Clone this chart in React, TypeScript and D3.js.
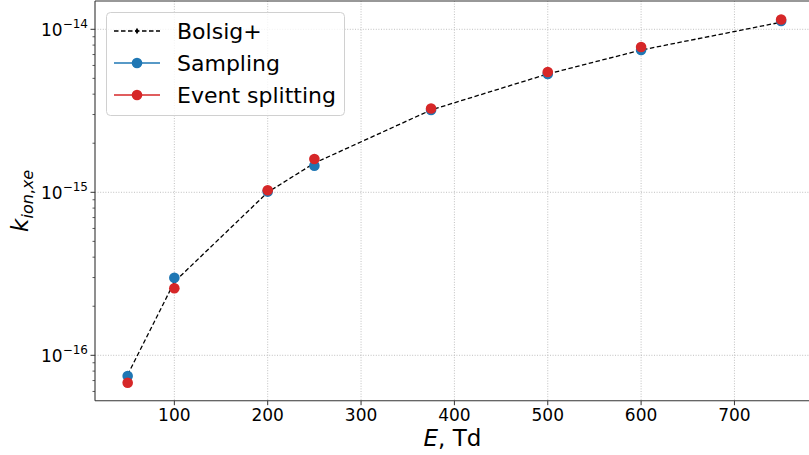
import React from "react";
import * as d3 from "d3";

const energies = [50, 100, 200, 250, 375, 500, 600, 750];
const bolsig = [7.6e-17, 2.82e-16, 1.0e-15, 1.51e-15, 3.2e-15, 5.32e-15, 7.46e-15, 1.105e-14];
const sampling = [7.46e-17, 2.99e-16, 1.01e-15, 1.456e-15, 3.2e-15, 5.32e-15, 7.46e-15, 1.124e-14];
const eventSplitting = [6.79e-17, 2.58e-16, 1.03e-15, 1.6e-15, 3.27e-15, 5.47e-15, 7.78e-15, 1.148e-14];
const xTicks = [100, 200, 300, 400, 500, 600, 700];
const yMajorExps = [-16, -15, -14];
const legendLabels = ["Bolsig+", "Sampling", "Event splitting"];

const W = 809;
const H = 455;
const LEFT = 95;
const RIGHT = 813.8;
const TOP = 1;
const BOTTOM = 400.7;
const FONT = "DejaVu Sans, sans-serif";
const BLUE = "#1f77b4";
const RED = "#d62728";

export default function App() {
  const x = d3.scaleLinear().domain([15, 785]).range([LEFT, RIGHT]);
  const y = d3
    .scaleLog()
    .domain([Math.pow(10, -16.2785), Math.pow(10, -13.8264)])
    .range([BOTTOM, TOP]);

  const minor: number[] = [];
  [-17, -16, -15, -14].forEach((e) => {
    for (let m = 2; m <= 9; m++) {
      const v = m * Math.pow(10, e);
      const [d0, d1] = y.domain();
      if (v >= d0 && v <= d1) minor.push(v);
    }
  });

  const line = d3
    .line<number>()
    .x((_, i) => x(energies[i]))
    .y((d) => y(d));

  const diamond = (cx: number, cy: number, s = 3.2) =>
    `M${cx},${cy - s} L${cx + s * 0.6},${cy} L${cx},${cy + s} L${cx - s * 0.6},${cy} Z`;

  const legendRows = [31, 63, 95];

  return (
    <svg
      width={W}
      height={H}
      style={{ position: "absolute", left: 0, top: 0, background: "#fff" }}
      fontFamily={FONT}
    >
      <defs>
        <clipPath id="plot">
          <rect x={LEFT} y={TOP} width={RIGHT - LEFT} height={BOTTOM - TOP} />
        </clipPath>
      </defs>
      {/* grid */}
      <g stroke="#b0b0b0" strokeWidth={0.8} strokeDasharray="1,1.6">
        {xTicks.map((t) => (
          <line key={"gx" + t} x1={x(t)} x2={x(t)} y1={TOP} y2={BOTTOM} />
        ))}
        {yMajorExps.map((e) => (
          <line key={"gy" + e} x1={LEFT} x2={RIGHT} y1={y(Math.pow(10, e))} y2={y(Math.pow(10, e))} />
        ))}
      </g>
      {/* data */}
      <g clipPath="url(#plot)">
        <path d={line(bolsig) || ""} fill="none" stroke="#000" strokeWidth={1.3} strokeDasharray="4.5,2.5" />
        {bolsig.map((v, i) => (
          <path key={"bd" + i} d={diamond(x(energies[i]), y(v))} fill="#000" />
        ))}
        {sampling.map((v, i) => (
          <circle key={"s" + i} cx={x(energies[i])} cy={y(v)} r={5.3} fill={BLUE} />
        ))}
        {eventSplitting.map((v, i) => (
          <circle key={"e" + i} cx={x(energies[i])} cy={y(v)} r={5.3} fill={RED} />
        ))}
      </g>
      {/* spines */}
      <g stroke="#333" strokeWidth={1.1} fill="none">
        <line x1={LEFT} x2={LEFT} y1={TOP} y2={BOTTOM} />
        <line x1={LEFT} x2={RIGHT} y1={BOTTOM} y2={BOTTOM} />
        <line x1={LEFT} x2={RIGHT} y1={TOP} y2={TOP} />
        <line x1={RIGHT} x2={RIGHT} y1={TOP} y2={BOTTOM} />
      </g>
      {/* x ticks */}
      <g>
        {xTicks.map((t) => (
          <g key={"xt" + t}>
            <line x1={x(t)} x2={x(t)} y1={BOTTOM} y2={BOTTOM + 4.5} stroke="#333" strokeWidth={1} />
            <text x={x(t)} y={BOTTOM + 20.5} textAnchor="middle" fontSize={17} fill="#000">
              {t}
            </text>
          </g>
        ))}
      </g>
      {/* y ticks */}
      <g>
        {minor.map((v, i) => (
          <line key={"ym" + i} x1={LEFT - 2.5} x2={LEFT} y1={y(v)} y2={y(v)} stroke="#333" strokeWidth={0.8} />
        ))}
        {yMajorExps.map((e) => {
          const yy = y(Math.pow(10, e));
          return (
            <g key={"yt" + e}>
              <line x1={LEFT - 4.5} x2={LEFT} y1={yy} y2={yy} stroke="#333" strokeWidth={1} />
              <text x={88} y={yy + 6.5} textAnchor="end" fontSize={17} fill="#000">
                <tspan>10</tspan>
                <tspan dy={-8} fontSize={12}>{"\u2212" + Math.abs(e)}</tspan>
              </text>
            </g>
          );
        })}
      </g>
      {/* axis labels */}
      <text x={(LEFT + RIGHT) / 2 - 2} y={446} textAnchor="middle" fontSize={23} fill="#000">
        <tspan fontStyle="italic">E</tspan>
        <tspan>, Td</tspan>
      </text>
      <text transform={`translate(28, ${(TOP + BOTTOM) / 2}) rotate(-90)`} textAnchor="middle" fontSize={23} fill="#000">
        <tspan fontStyle="italic">k</tspan>
        <tspan fontStyle="italic" fontSize={16} dy={5}>ion</tspan>
        <tspan fontSize={16}>,</tspan>
        <tspan fontStyle="italic" fontSize={16}>xe</tspan>
      </text>
      {/* legend */}
      <g>
        <rect x={106.5} y={12.5} width={238} height={103} rx={4} fill="#fff" fillOpacity={0.8} stroke="#d0d0d0" strokeWidth={1} />
        <line x1={114} x2={160} y1={legendRows[0]} y2={legendRows[0]} stroke="#000" strokeWidth={1.3} strokeDasharray="4.5,2.5" />
        <path d={diamond(137, legendRows[0])} fill="#000" />
        <line x1={114} x2={160} y1={legendRows[1]} y2={legendRows[1]} stroke={BLUE} strokeWidth={1.5} />
        <circle cx={137} cy={legendRows[1]} r={5.3} fill={BLUE} />
        <line x1={114} x2={160} y1={legendRows[2]} y2={legendRows[2]} stroke={RED} strokeWidth={1.5} />
        <circle cx={137} cy={legendRows[2]} r={5.3} fill={RED} />
        {legendLabels.map((l, i) => (
          <text key={l} x={177} y={legendRows[i] + 8} fontSize={22} fill="#000">
            {l}
          </text>
        ))}
      </g>
    </svg>
  );
}
